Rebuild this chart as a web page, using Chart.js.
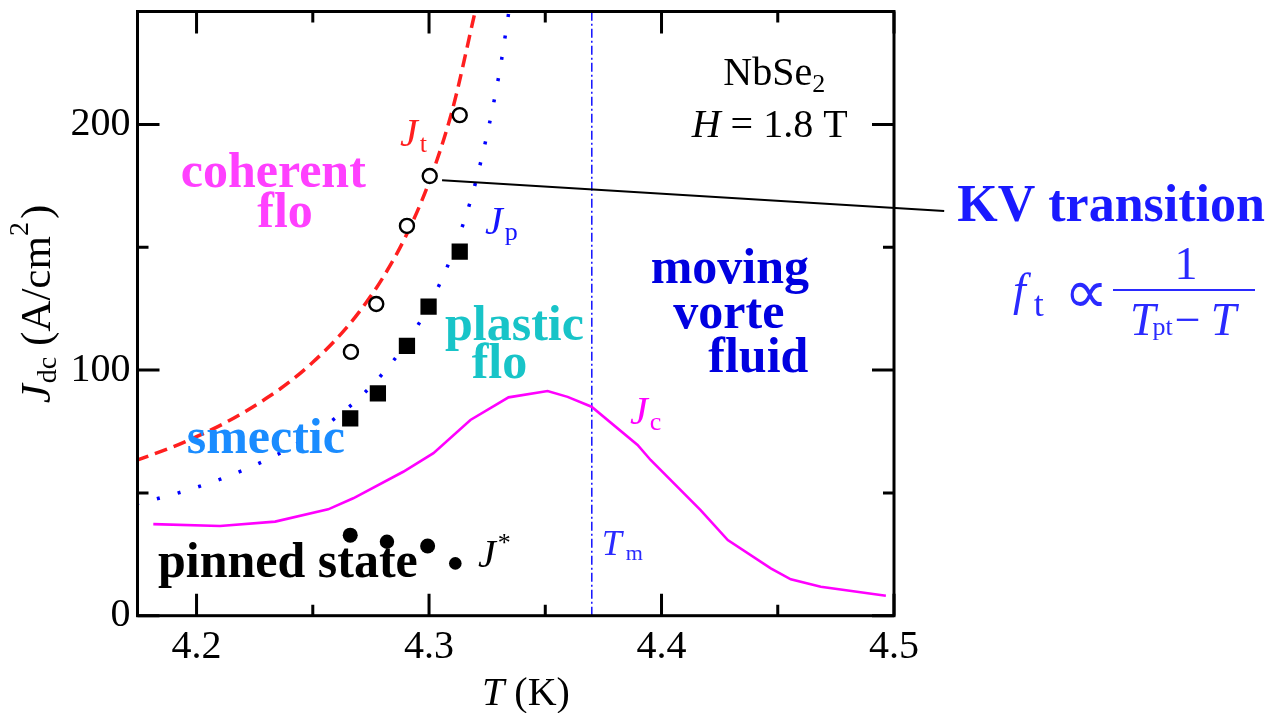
<!DOCTYPE html>
<html><head><meta charset="utf-8">
<script src="https://cdn.jsdelivr.net/npm/chart.js@4/dist/chart.umd.min.js"></script>
<style>html,body{margin:0;padding:0;background:#fff;}canvas{display:block;}</style>
</head><body>
<canvas id="c" width="1288" height="713"></canvas>
<script>
// ---------- data ----------
const X_MIN = 4.1746, X_MAX = 4.5;
const Y_MIN = 0, Y_MAX = 246;
const xMajorTicks = [4.2, 4.3, 4.4, 4.5];
const xMinorTicks = [4.25, 4.35, 4.45];
const yMajorTicks = [0, 100, 200];
const yMinorTicks = [50, 150];

// J_t : red dashed curve
const jtCurveT = [4.174, 4.19, 4.20, 4.21, 4.22, 4.23, 4.24, 4.25, 4.26, 4.27, 4.28, 4.29, 4.30, 4.31, 4.32];
const jtCurveJ = [63.2, 68.8, 72.9, 77.4, 82.6, 88.5, 95.2, 103.2, 112.5, 123.7, 137.4, 154.5, 176.5, 205.8, 246.7];
// J_p : blue dotted curve
const jpCurveT = [4.174, 4.19, 4.20, 4.21, 4.22, 4.23, 4.24, 4.25, 4.26, 4.27, 4.28, 4.29, 4.30, 4.31, 4.32, 4.33, 4.335];
const jpCurveJ = [45.4, 49.4, 52.3, 55.5, 59.2, 63.4, 68.3, 74.0, 80.7, 88.7, 98.5, 110.7, 126.3, 147.2, 176.3, 219.7, 250.0];
// J_c : magenta line
const jcT = [4.1814, 4.2101, 4.2338, 4.2566, 4.2674, 4.2889, 4.3019, 4.3178, 4.3342, 4.3510, 4.3596, 4.3699, 4.3897, 4.3953, 4.4168, 4.4285, 4.4470, 4.4556, 4.4685, 4.4965];
const jcJ = [37.3, 36.5, 38.3, 43.3, 47.8, 58.6, 66.2, 79.7, 88.9, 91.5, 89.1, 85.1, 69.5, 63.4, 43.0, 30.8, 19.3, 14.8, 11.8, 8.1];
// open circles (J_t data)
const openT = [4.2664, 4.2773, 4.2905, 4.3003, 4.3132];
const openJ = [107.4, 126.9, 158.7, 179.0, 203.8];
// filled squares (J_p data)
const squareT = [4.2661, 4.2780, 4.2905, 4.2998, 4.3132];
const squareJ = [80.3, 90.5, 109.9, 125.8, 148.2];
// filled circles (J*)
const starT = [4.2661, 4.2819, 4.2994, 4.3113];
const starJ = [32.8, 30.1, 28.4, 21.3];
// T_m vertical line
const tmT = [4.37, 4.37];
const tmJ = [0, 246];
// leader line to "KV transition"
const leaderT = [4.3056, 4.5216];
const leaderJ = [177.3, 164.8];

// ---------- helpers ----------
const SERIF = '"Liberation Serif","Times New Roman",serif';
const F = (size, opt) => `${opt || ''} ${size}px ${SERIF}`;
const pts = (xs, ys) => xs.map((x, i) => ({ x, y: ys[i] }));

function runsWidth(ctx, runs) {
  let w = 0;
  for (const r of runs) { ctx.font = r.font; w += ctx.measureText(r.text).width + (r.dx || 0); }
  return w;
}
function drawRuns(ctx, x, y, runs, color, align) {
  const w = runsWidth(ctx, runs);
  let cx = align === 'center' ? x - w / 2 : x;
  ctx.textBaseline = 'alphabetic';
  ctx.textAlign = 'left';
  for (const r of runs) {
    ctx.font = r.font;
    ctx.fillStyle = r.color || color;
    cx += (r.dx || 0);
    ctx.fillText(r.text, cx, y + (r.dy || 0));
    cx += ctx.measureText(r.text).width;
  }
}

const C_RED = '#ff1f1f', C_BLUE = '#1414ff', C_MAG = '#ff00ff', C_FORM = '#2a2aff';

// text annotations (left x, baseline y in pixels)
const labels = [
  { x: 180.7, y: 187.3, color: '#ff40ff', runs: [{ text: 'coherent', font: F(50, 'bold') }] },
  { x: 257.3, y: 226.7, color: '#ff40ff', runs: [{ text: 'flo', font: F(50, 'bold') }] },
  { x: 186.7, y: 453.3, color: '#1a8cff', runs: [{ text: 'smectic', font: F(50, 'bold') }] },
  { x: 445, y: 340, color: '#18c4c8', runs: [{ text: 'plastic', font: F(50, 'bold') }] },
  { x: 471.7, y: 378.3, color: '#18c4c8', runs: [{ text: 'flo', font: F(50, 'bold') }] },
  { x: 650.7, y: 283.3, color: '#0000e0', runs: [{ text: 'moving', font: F(50, 'bold') }] },
  { x: 673.3, y: 328.3, color: '#0000e0', runs: [{ text: 'vorte', font: F(50, 'bold') }] },
  { x: 708.3, y: 371.7, color: '#0000e0', runs: [{ text: 'fluid', font: F(50, 'bold') }] },
  { x: 158, y: 577, color: '#000', runs: [{ text: 'pinned state', font: F(50, 'bold') }] },
  { x: 478, y: 567, color: '#000', runs: [{ text: 'J', font: F(40, 'italic') }, { text: '*', font: F(26), dy: -16, dx: 2 }] },
  { x: 400, y: 146, color: C_RED, runs: [{ text: 'J', font: F(40, 'italic') }, { text: 't', font: F(26), dy: 6, dx: 2 }] },
  { x: 485, y: 234, color: C_BLUE, runs: [{ text: 'J', font: F(40, 'italic') }, { text: 'p', font: F(26), dy: 6, dx: 2 }] },
  { x: 630, y: 424, color: C_MAG, runs: [{ text: 'J', font: F(40, 'italic') }, { text: 'c', font: F(26), dy: 6, dx: 2 }] },
  { x: 601.7, y: 555, color: C_FORM, runs: [{ text: 'T', font: F(36, 'italic') }, { text: 'm', font: F(22), dy: 5, dx: 4 }] },
  { x: 723.3, y: 85, color: '#000', runs: [{ text: 'NbSe', font: F(40) }, { text: '2', font: F(26), dy: 7 }] },
  { x: 691.7, y: 137.3, color: '#000', runs: [{ text: 'H', font: F(40, 'italic') }, { text: ' = 1.8 T', font: F(40) }] },
  { x: 957.3, y: 221, color: '#1a1aff', runs: [{ text: 'KV transition', font: F(52, 'bold') }] },
  { x: 1013, y: 305, color: C_FORM, runs: [{ text: 'f', font: F(46, 'italic') }, { text: 't', font: F(36), dy: 11, dx: 8 }] },
  { x: 1064, y: 313, color: C_FORM, runs: [{ text: '\u221D', font: F(62) }] },
  { x: 1130, y: 335, color: C_FORM, runs: [{ text: 'T', font: F(46, 'italic') }, { text: 'pt', font: F(26), dy: 0, dx: -3 }, { text: '\u2212', font: F(46), dx: 2 }, { text: 'T', font: F(46, 'italic'), dx: 10 }] },
];

const annotationPlugin = {
  id: 'annot',
  afterDatasetsDraw(chart) {
    const ctx = chart.ctx;
    const xs = chart.scales.x, ys = chart.scales.y;
    const a = chart.chartArea;
    ctx.save();
    // frame
    ctx.strokeStyle = '#000';
    ctx.lineWidth = 3;
    ctx.lineCap = 'square';
    ctx.strokeRect(a.left, a.top, a.right - a.left, a.bottom - a.top);
    // inward ticks on all four sides
    ctx.lineWidth = 3;
    ctx.lineCap = 'butt';
    const tickX = (v, len) => {
      const px = xs.getPixelForValue(v);
      ctx.beginPath(); ctx.moveTo(px, a.bottom); ctx.lineTo(px, a.bottom - len);
      ctx.moveTo(px, a.top); ctx.lineTo(px, a.top + len); ctx.stroke();
    };
    const tickY = (v, len) => {
      const py = ys.getPixelForValue(v);
      ctx.beginPath(); ctx.moveTo(a.left, py); ctx.lineTo(a.left + len, py);
      ctx.moveTo(a.right, py); ctx.lineTo(a.right - len, py); ctx.stroke();
    };
    xMajorTicks.forEach(v => tickX(v, 22));
    xMinorTicks.forEach(v => tickX(v, 11));
    yMajorTicks.forEach(v => tickY(v, 22));
    yMinorTicks.forEach(v => tickY(v, 11));

    // text labels
    labels.forEach(l => drawRuns(ctx, l.x, l.y, l.runs, l.color, 'left'));

    // fraction in the formula
    ctx.strokeStyle = C_FORM;
    ctx.lineWidth = 2.2;
    ctx.beginPath(); ctx.moveTo(1113, 290); ctx.lineTo(1255, 290); ctx.stroke();
    drawRuns(ctx, 1186, 279, [{ text: '1', font: F(46) }], C_FORM, 'center');

    // axis titles
    drawRuns(ctx, 526, 705, [{ text: 'T', font: F(40, 'italic') }, { text: ' (K)', font: F(40) }], '#000', 'center');
    ctx.translate(50, 304);
    ctx.rotate(-Math.PI / 2);
    drawRuns(ctx, 0, 0, [
      { text: 'J', font: F(43, 'italic') },
      { text: 'dc', font: F(28), dy: 6, dx: 1 },
      { text: ' (A/cm', font: F(43) },
      { text: '2', font: F(28), dy: -22 },
      { text: ')', font: F(43), dx: 3 }
    ], '#000', 'center');
    ctx.restore();
  }
};

const zeroPad = s => { s.paddingLeft = 0; s.paddingRight = 0; s.paddingTop = 0; s.paddingBottom = 0; };

new Chart(document.getElementById('c').getContext('2d'), {
  type: 'line',
  data: {
    datasets: [
      { data: pts(openT, openJ), showLine: false, pointStyle: 'circle', pointRadius: 7, pointBorderWidth: 2.4,
        pointBorderColor: '#000', pointBackgroundColor: '#fff', order: 0 },
      { data: pts(squareT, squareJ), showLine: false, pointStyle: 'rect', pointRadius: 11.5, pointBorderWidth: 0,
        pointBorderColor: '#000', pointBackgroundColor: '#000', order: 0 },
      { data: pts(starT, starJ), showLine: false, pointStyle: 'circle', pointRadius: [7.5, 7.2, 7.5, 6.3], pointBorderWidth: 0,
        pointBorderColor: '#000', pointBackgroundColor: '#000', order: 0 },
      { data: pts(leaderT, leaderJ), borderColor: '#000', borderWidth: 2, pointRadius: 0, clip: false, order: 3 },
      { data: pts(jtCurveT, jtCurveJ), borderColor: C_RED, borderWidth: 3.5, borderDash: [13, 7], pointRadius: 0,
        cubicInterpolationMode: 'monotone', order: 5 },
      { data: pts(jpCurveT, jpCurveJ), borderColor: '#0000ff', borderWidth: 3.5, borderDash: [3, 18.5], pointRadius: 0,
        cubicInterpolationMode: 'monotone', order: 5 },
      { data: pts(jcT, jcJ), borderColor: C_MAG, borderWidth: 2.6, pointRadius: 0, tension: 0, order: 5 },
      { data: pts(tmT, tmJ), borderColor: '#1a1aff', borderWidth: 1.6, borderDash: [9, 3, 2, 3], pointRadius: 0, order: 6 }
    ]
  },
  options: {
    responsive: false, animation: false, devicePixelRatio: 1,
    layout: { padding: { left: 0, top: 11, right: 394, bottom: 0 } },
    plugins: { legend: { display: false }, tooltip: { enabled: false } },
    scales: {
      x: {
        type: 'linear', min: X_MIN, max: X_MAX,
        grid: { display: false, drawTicks: false }, border: { display: false },
        afterBuildTicks: s => { s.ticks = xMajorTicks.map(v => ({ value: v })); },
        ticks: {
          autoSkip: false, maxRotation: 0, minRotation: 0, padding: 8, color: '#000',
          font: { family: SERIF, size: 40 },
          callback: v => Number(v).toFixed(1)
        },
        afterFit: s => { s.height = 713 - 615.7; zeroPad(s); }
      },
      y: {
        type: 'linear', min: Y_MIN, max: Y_MAX,
        grid: { display: false, drawTicks: false }, border: { display: false },
        afterBuildTicks: s => { s.ticks = yMajorTicks.map(v => ({ value: v })); },
        ticks: {
          autoSkip: false, padding: 7, color: '#000',
          font: { family: SERIF, size: 40 },
          callback: v => String(v)
        },
        afterFit: s => { s.width = 137.5; zeroPad(s); }
      }
    }
  },
  plugins: [annotationPlugin]
});
</script>
</body></html>
